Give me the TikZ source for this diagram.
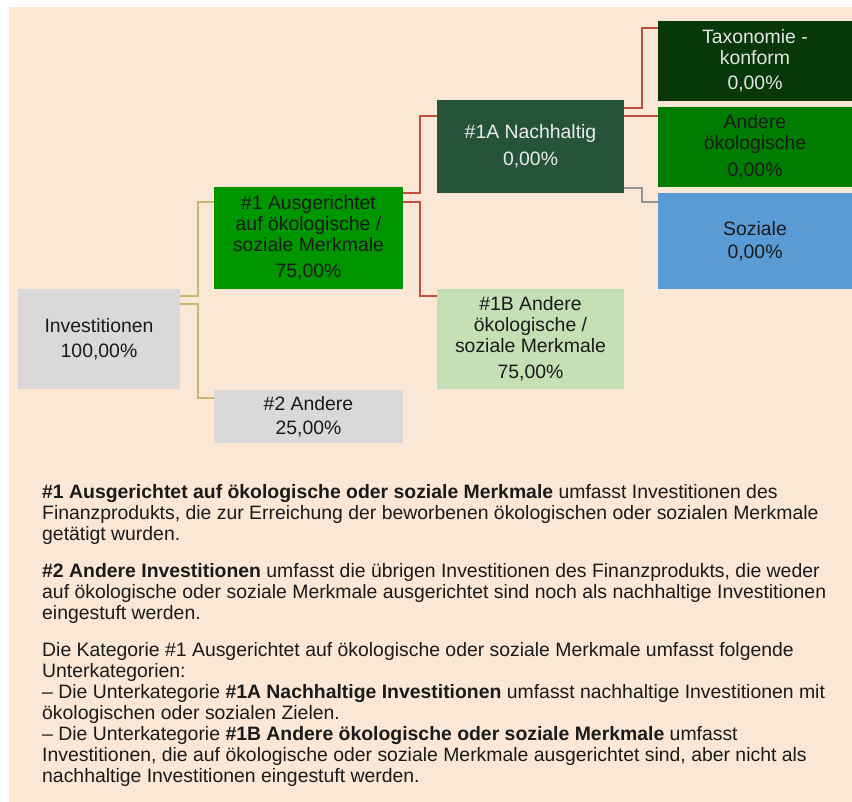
\documentclass[tikz,border=0pt]{standalone}
\usepackage{fontspec}
\setmainfont{Liberation Sans}
\usepackage{xcolor}
\definecolor{peach}{RGB}{251,231,214}
\definecolor{boxgray}{RGB}{217,217,217}
\definecolor{greenA}{RGB}{0,150,0}
\definecolor{greenNach}{RGB}{38,84,58}
\definecolor{greenLight}{RGB}{197,224,180}
\definecolor{greenTax}{RGB}{8,56,8}
\definecolor{greenOek}{RGB}{0,124,0}
\definecolor{blueSoz}{RGB}{91,155,213}
\definecolor{tanline}{RGB}{201,182,112}
\definecolor{redline}{RGB}{192,80,60}
\definecolor{grayline}{RGB}{150,150,150}
\definecolor{darktext}{RGB}{26,26,26}

\begin{document}
\begin{tikzpicture}[x=1pt,y=-1pt,
	box/.style={inner sep=0pt, align=center, text=darktext, font=\fontsize{19.4}{21}\selectfont},
	link/.style={line width=2.4pt}]
		\useasboundingbox (0,0) rectangle (852,802);
		\fill [peach] (9,7) rectangle (852,802);
		% BOXES
		\node (inv) at (99,339) [box, fill=boxgray, minimum width=162pt, minimum height=100pt] {Investitionen\\[4pt]100,00\%};
		\node (a1) at (308.5,238) [box, fill=greenA, minimum width=189pt, minimum height=102pt] {\#1 Ausgerichtet\\auf ökologische /\\soziale Merkmale\\[5pt]75,00\%};
		\node (a2) at (308.5,416.5) [box, fill=boxgray, minimum width=189pt, minimum height=53pt] {\#2 Andere\\[3pt]25,00\%};
		\node (a1A) at (530.5,146.5) [box, fill=greenNach, text=white!92!black, minimum width=187pt, minimum height=93pt] {\#1A Nachhaltig\\[6pt]0,00\%};
		\node (a1B) at (530.5,339) [box, fill=greenLight, minimum width=187pt, minimum height=100pt] {\#1B Andere\\ökologische /\\soziale Merkmale\\[5pt]75,00\%};
		\node (tax) at (755,61) [box, fill=greenTax, text=white!90!black, minimum width=194pt, minimum height=80pt] {Taxonomie -\\konform\\[4pt]0,00\%};
		\node (oek) at (755,147) [box, fill=greenOek, minimum width=194pt, minimum height=80pt] {Andere\\ökologische\\[6pt]0,00\%};
		\node (soz) at (755,241) [box, fill=blueSoz, minimum width=194pt, minimum height=96pt] {Soziale\\[2pt]0,00\%};
		% CONNECTORS
		\draw [link,tanline] ([yshift=-7pt]inv.north east) -- ++(18,0) |- ([yshift=-15pt]a1.north west);
		\draw [link,tanline] ([yshift=-15pt]inv.north east) -- ++(18,0) |- ([yshift=-8pt]a2.north west);
		\draw [link,redline] ([yshift=-6pt]a1.north east) -- ++(17,0) |- ([yshift=-16pt]a1A.north west);
		\draw [link,redline] ([yshift=-15pt]a1.north east) -- ++(17,0) |- ([yshift=-7pt]a1B.north west);
		\draw [link,redline] ([yshift=-8pt]a1A.north east) -- ++(18,0) |- ([yshift=-7pt]tax.north west);
		\draw [link,redline] ([yshift=-16pt]a1A.north east) -- ++(18,0) |- ([yshift=-9pt]oek.north west);
		\draw [link,grayline] ([yshift=5pt]a1A.south east) -- ++(18,0) |- ([yshift=-9pt]soz.north west);
		% LEGEND TEXT
		\node (legend) at (42,484) [anchor=north west, inner sep=0pt, align=left, text=darktext, font=\fontsize{19.4}{21}\selectfont] {%
			\textbf{\#1 Ausgerichtet auf ökologische oder soziale Merkmale} umfasst Investitionen des\\
			Finanzprodukts, die zur Erreichung der beworbenen ökologischen oder sozialen Merkmale\\
			getätigt wurden.\\[16pt]
			\textbf{\#2 Andere Investitionen} umfasst die übrigen Investitionen des Finanzprodukts, die weder\\
			auf ökologische oder soziale Merkmale ausgerichtet sind noch als nachhaltige Investitionen\\
			eingestuft werden.\\[16pt]
			Die Kategorie \#1 Ausgerichtet auf ökologische oder soziale Merkmale umfasst folgende\\
			Unterkategorien:\\
			– Die Unterkategorie \textbf{\#1A Nachhaltige Investitionen} umfasst nachhaltige Investitionen mit\\
			ökologischen oder sozialen Zielen.\\
			– Die Unterkategorie \textbf{\#1B Andere ökologische oder soziale Merkmale} umfasst\\
			Investitionen, die auf ökologische oder soziale Merkmale ausgerichtet sind, aber nicht als\\
			nachhaltige Investitionen eingestuft werden.};
		\end{tikzpicture}
\end{document}
